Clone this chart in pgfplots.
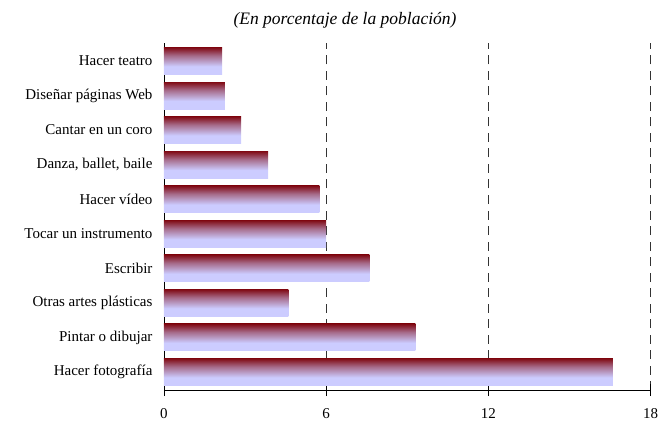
\documentclass[border=0pt]{standalone}
\usepackage{fontspec}
\setmainfont{Liberation Serif}
\usepackage{pgfplots}
\pgfplotsset{compat=1.18}
\definecolor{dred}{RGB}{128,10,20}
\definecolor{lav}{RGB}{204,204,255}
\pgfdeclareverticalshading{barshade}{100bp}{color(0bp)=(lav); color(25bp)=(lav); color(40bp)=(lav); color(60bp)=(dred!50!lav); color(75bp)=(dred); color(100bp)=(dred)}
\begin{document}
\begin{tikzpicture}
\begin{axis}[
  name=ax,
  scale only axis,
  width=486.7pt, height=347pt,
  xmin=0, xmax=18,
  ymin=-0.52, ymax=9.52,
  xtick={0,6,12,18},
  ytick={0,...,9},
  yticklabels={Hacer fotografía, Pintar o dibujar, Otras artes plásticas, Escribir, Tocar un instrumento, Hacer vídeo, {Danza, ballet, baile}, Cantar en un coro, Diseñar páginas Web, Hacer teatro},
  axis x line=bottom, axis y line=left,
  axis line style={-, line width=0.8pt},
  x axis line style={line width=1pt},
  xmajorgrids,
  major grid style={black!80, dash pattern=on 9pt off 6.5pt, line width=0.9pt},
  xtick style={black, line width=0.8pt},
  major tick length=12pt,
  tick align=center,
  ytick style={draw=none},
  ticklabel style={font=\fontsize{15}{18}\selectfont},
  /pgf/number format/assume math mode=true,
  xticklabel style={yshift=-9pt},
  yticklabel style={xshift=-2pt},
  cycle list={{mark=none}},
  every axis plot/.append style={xbar, bar width=27pt, bar shift=0pt, draw=none, mark=none, shading=barshade},
]
\addplot coordinates {(16.6,0)};
\addplot coordinates {(9.3,1)};
\addplot coordinates {(4.6,2)};
\addplot coordinates {(7.6,3)};
\addplot coordinates {(6.0,4)};
\addplot coordinates {(5.75,5)};
\addplot coordinates {(3.85,6)};
\addplot coordinates {(2.85,7)};
\addplot coordinates {(2.25,8)};
\addplot coordinates {(2.15,9)};
\end{axis}
\node[font=\fontsize{17.5}{20}\selectfont\itshape] at ([xshift=181pt,yshift=370pt]ax.south west) {(En porcentaje de la población)};
\path ([xshift=-164pt,yshift=-36pt]ax.south west) rectangle ([xshift=502pt,yshift=390pt]ax.south west);
\end{tikzpicture}
\end{document}
